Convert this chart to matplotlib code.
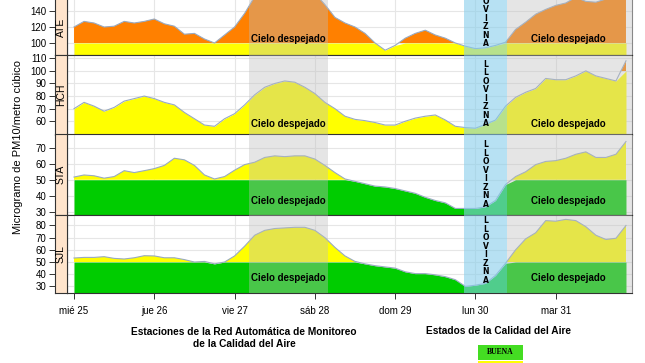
import matplotlib.pyplot as plt
import numpy as np

plt.rcParams['font.family'] = ['Liberation Sans', 'DejaVu Sans']

# horas desde mié 25 00:00, cada 3 h
hours = np.arange(0, 166, 3)
days = ['mié 25', 'jue 26', 'vie 27', 'sáb 28', 'dom 29', 'lun 30', 'mar 31']
stations = ['ATE', 'HCH', 'STA', 'SJL']

ate = [120, 127, 125, 120, 121, 127, 125, 127, 130, 124,
       121, 111, 112, 105, 100, 110, 120, 137, 158, 168,
       172, 175, 176, 172, 162, 148, 132, 125, 120, 112,
       100, 91, 97, 106, 112, 116, 110, 106, 100, 96,
       93, 94, 97, 101, 117, 126, 136, 142, 147, 150,
       157, 152, 151, 155, 160, 165]
hch = [70, 75, 72, 68, 71, 76, 78, 80, 78, 75,
       73, 67, 62, 57, 56, 62, 66, 73, 81, 87,
       90, 92, 91, 87, 82, 75, 70, 64, 61.5, 60.5,
       59, 57, 57, 60, 62.5, 64, 65, 61, 56, 55,
       54.5, 57.5, 61, 72, 79, 83, 86, 94, 93, 93,
       96, 100, 96, 94, 92, 108]
sta = [51.7, 53, 52.5, 51, 52, 55.7, 54.5, 55.7, 57, 59,
       63.5, 62.5, 59, 53, 50.5, 52, 56, 59.5, 61, 64,
       65, 64.5, 65, 65, 63, 59, 54.5, 50.5, 49, 47.5,
       46, 45.5, 44.5, 43, 41.5, 39, 37, 35.5, 32, 32,
       32, 33, 37, 47, 52, 55, 59.5, 61.5, 62, 63.5,
       66, 67.5, 64, 64, 66, 74]
sjl = [53.3, 53.8, 53.8, 54.4, 53, 52.5, 53.5, 55.2, 55, 53.5,
       53.5, 52, 50, 50.5, 48.5, 50, 55, 63, 72, 76,
       77.5, 78, 78.5, 78.5, 76, 70, 62, 55, 50.5, 48.5,
       47, 46, 45, 42, 40.5, 40.5, 39.5, 38, 35.5, 30,
       31, 32.5, 39, 49, 60, 69, 74, 84, 83.5, 85,
       84, 79, 72, 68.5, 69.5, 80]
series = [ate, hch, sta, sjl]

# limites de calidad del aire
bands = [(0, 50, '#00CC00'), (50, 100, '#FFFF00'), (100, 400, '#FF8000')]

# eventos
clear_sky = [(52.3, 75.9), (129.4, 170)]
drizzle = (116.6, 129.4)

W, H = 645, 363
# panel: y arriba px, y abajo px, ylim, yticks, y texto cielo, y texto llovizna
layout = [
    (-1, 55, (85, 155), [100, 120, 140], 0.29, 0.73),
    (55, 134.5, (49.5, 112.6), [60, 70, 80, 90, 100, 110], 0.13, 0.51),
    (134.5, 214.5, (28.2, 78.4), [30, 40, 50, 60, 70], 0.17, 0.50),
    (214.5, 293, (24.6, 89), [30, 40, 50, 60, 70, 80], 0.19, 0.54),
]

fig = plt.figure(figsize=(W / 100, H / 100), dpi=100)
x0, x1, xs = 67, 632, 55
xlim = (-2.1, 166.8)

for i, (name, vals, lay) in enumerate(zip(stations, series, layout)):
    top, bot, ylim, yt, ycielo, yllov = lay
    v = np.array(vals, dtype=float)
    rect = [x0 / W, (H - bot) / H, (x1 - x0) / W, (bot - top) / H]
    ax = fig.add_axes(rect)
    sax = fig.add_axes([xs / W, (H - bot) / H, (x0 - xs) / W, (bot - top) / H], sharey=ax)

    for lo, hi, c in bands:
        ax.fill_between(hours, lo, np.minimum(v, hi), where=v > lo,
                        interpolate=True, color=c, lw=0, zorder=2)
    ax.plot(hours, v, color='#98AAC2', lw=0.8, zorder=3)

    for a, b in clear_sky:
        ax.axvspan(a, b, color='#BDBDBD', alpha=0.39, lw=0, zorder=4)
        ax.text((a + min(b, 166)) / 2, ycielo, 'Cielo despejado', transform=ax.get_xaxis_transform(),
                ha='center', va='center', fontsize=7, fontweight='bold', zorder=6)
    ax.axvspan(drizzle[0], drizzle[1], color='#87CEEB', alpha=0.6, lw=0, zorder=4)
    t = ax.text(sum(drizzle) / 2, yllov, '\n'.join('LLOVIZNA'), transform=ax.get_xaxis_transform(),
                ha='center', va='center', fontsize=5.5, fontweight='bold', linespacing=0.93,
                family='DejaVu Sans', zorder=6)
    t.set_clip_path(ax.patch)
    t.set_clip_on(True)

    ax.set_xlim(*xlim)
    ax.set_ylim(*ylim)
    ax.set_xticks(np.arange(0, 145, 24))
    ax.set_yticks(yt)
    ax.grid(True, color='#E6E6E6', lw=0.8, zorder=0)
    ax.set_axisbelow(True)
    for s in ax.spines.values():
        s.set_color('#333333')
        s.set_linewidth(0.8)
    ax.spines['right'].set_color('#888888')
    if i == 0:
        ax.spines['top'].set_visible(False)
    ax.tick_params(axis='y', left=False, labelleft=False)
    if i == 3:
        ax.set_xticklabels(days)
        ax.tick_params(axis='x', direction='out', length=4, width=0.7,
                       color='#333333', labelsize=7, pad=5)
    else:
        ax.tick_params(axis='x', bottom=False, labelbottom=False)

    sax.set_facecolor('#FFE4CC')
    sax.set_xticks([])
    sax.tick_params(axis='y', direction='out', length=4, width=0.7, labelsize=7, pad=2, color='#333333')
    for s in sax.spines.values():
        s.set_color('#333333')
        s.set_linewidth(0.8)
    if i == 0:
        sax.spines['top'].set_visible(False)
    sax.text(0.5, 0.5, name, transform=sax.transAxes, rotation=90,
             ha='center', va='center', fontsize=7.5)

fig.text(18 / W, 1 - 147 / H, 'Microgramo de PM10/metro cúbico', rotation=90,
         ha='center', va='center', fontsize=8)

fig.text(244 / W, 1 - 338 / H, 'Estaciones de la Red Automática de Monitoreo\nde la Calidad del Aire',
         ha='center', va='center', fontsize=7.3, fontweight='bold', linespacing=1.3)
fig.text(498 / W, 1 - 331 / H, 'Estados de la Calidad del Aire',
         ha='center', va='center', fontsize=7.3, fontweight='bold')

lax = fig.add_axes([0, 0, 1, 1], facecolor='none')
lax.set_xlim(0, W)
lax.set_ylim(H, 0)
lax.axis('off')
lax.add_patch(plt.Rectangle((478, 345), 45, 15, color='#44DD22', lw=0))
lax.add_patch(plt.Rectangle((478, 361), 45, 15, color='#FFFF00', lw=0))
lax.text(500.5, 352.5, 'BUENA', ha='center', va='center', fontsize=5.5,
         fontweight='bold', family='Liberation Serif')

fig.savefig('out.png', dpi=100)
